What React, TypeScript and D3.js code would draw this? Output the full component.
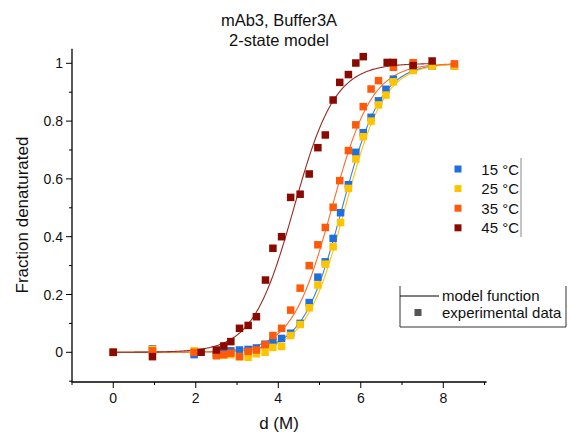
import React from "react";
import * as d3 from "d3";

const seriesNames = ["15 °C", "25 °C", "35 °C", "45 °C"];
const seriesColors = ["#1f6fdc", "#ffc400", "#ff5a0a", "#8b0a00"];
const curveColors = ["#3d82e0", "#ffc400", "#ff6a2a", "#9a2a22"];

const x15 = [0, 0.95, 1.96, 2.5, 2.68, 2.85, 3.06, 3.27, 3.47, 3.68, 3.87, 4.08, 4.3, 4.53, 4.75, 4.96, 5.14, 5.33, 5.51, 5.7, 5.88, 6.06, 6.25, 6.43, 6.61, 6.79, 7.27, 7.73, 8.27];
const y15 = [0, 0.012, -0.008, -0.005, 0.0, 0.005, 0.008, 0.01, 0.015, 0.028, 0.037, 0.048, 0.066, 0.1, 0.172, 0.26, 0.313, 0.394, 0.483, 0.58, 0.692, 0.76, 0.813, 0.87, 0.91, 0.945, 0.978, 0.99, 0.99];

const x25 = [0, 0.95, 1.96, 2.5, 2.68, 2.85, 3.06, 3.27, 3.47, 3.68, 3.87, 4.08, 4.3, 4.53, 4.75, 4.96, 5.14, 5.33, 5.51, 5.7, 5.88, 6.06, 6.25, 6.43, 6.61, 6.79, 7.27, 7.73, 8.27];
const y25 = [0, 0.01, 0.005, -0.01, -0.01, -0.008, -0.015, -0.017, -0.005, 0.0, 0.017, 0.02, 0.058, 0.096, 0.154, 0.233, 0.305, 0.365, 0.449, 0.567, 0.669, 0.746, 0.8, 0.856, 0.89, 0.936, 0.975, 0.99, 0.99];

const x35 = [0, 0.95, 1.96, 2.5, 2.68, 2.85, 3.06, 3.27, 3.47, 3.68, 3.87, 4.08, 4.3, 4.53, 4.75, 4.96, 5.14, 5.33, 5.49, 5.7, 5.88, 6.06, 6.25, 6.43, 6.79, 7.27, 8.27];
const y35 = [0, 0.005, 0.0, -0.012, -0.008, -0.003, -0.015, 0.003, 0.008, 0.026, 0.058, 0.083, 0.146, 0.222, 0.3, 0.372, 0.432, 0.502, 0.594, 0.698, 0.787, 0.85, 0.911, 0.94, 0.986, 1.002, 0.998];

const x45 = [0, 0.95, 2.13, 2.5, 2.68, 2.85, 3.06, 3.27, 3.47, 3.69, 3.87, 4.08, 4.3, 4.53, 4.75, 4.96, 5.14, 5.33, 5.49, 5.7, 5.88, 6.06, 6.64, 6.79, 7.27, 7.73];
const y45 = [0, -0.015, 0.0, 0.008, 0.022, 0.037, 0.083, 0.093, 0.123, 0.25, 0.36, 0.4, 0.536, 0.547, 0.617, 0.708, 0.752, 0.873, 0.934, 0.961, 1.001, 1.023, 1.003, 1.003, 0.992, 1.008];

// two-state model fit parameters (midpoint Cm, steepness k, fitted range end)
const fitMidpoints = [5.55, 5.62, 5.3, 4.38];
const fitSlopes = [2.1, 2.1, 2.05, 2.0];
const fitEnds = [8.27, 8.27, 8.27, 7.73];

const xTicks = [0, 2, 4, 6, 8];
const xMinorTicks = [-1, 1, 3, 5, 7, 9];
const yTicks = [0, 0.2, 0.4, 0.6, 0.8, 1];
const yMinorTicks = [-0.1, 0.1, 0.3, 0.5, 0.7, 0.9];

const title1 = "mAb3, Buffer3A";
const title2 = "2-state model";
const xLabel = "d (M)";
const yLabel = "Fraction denaturated";

const xs = [x15, x25, x35, x45];
const ys = [y15, y25, y35, y45];

export default function App() {
  const W = 571, H = 437;
  const font = "'Liberation Sans', Arial, sans-serif";
  const x = d3.scaleLinear().domain([-1, 9.05]).range([72, 486.6]);
  const y = d3.scaleLinear().domain([-0.1, 1.05]).range([381.2, 48.85]);
  const sq = 7.5;

  const line = d3.line<[number, number]>().x(d => x(d[0])).y(d => y(d[1]));

  return (
    <svg width={W} height={H} style={{ position: "absolute", left: 0, top: 0, background: "#fff" }} fontFamily={font}>
      <rect x={0} y={0} width={W} height={H} fill="#fff" />
      {/* title */}
      <text x={279} y={26} fontSize={16.5} textAnchor="middle" fill="#111">{title1}</text>
      <text x={279} y={46} fontSize={16.5} textAnchor="middle" fill="#111">{title2}</text>

      {/* curves */}
      {fitMidpoints.map((cm, i) => {
        const pts: [number, number][] = d3.range(0, fitEnds[i] + 0.001, 0.02).map(d => [d, 1 / (1 + Math.exp(-fitSlopes[i] * (d - cm)))]);
        return <path key={"c" + i} d={line(pts) || ""} fill="none" stroke={curveColors[i]} strokeWidth={1.1} />;
      })}

      {/* points */}
      {xs.map((xa, i) => (
        <g key={"s" + i}>
          {xa.map((xv, j) => (
            <rect key={j} x={x(xv) - sq / 2} y={y(ys[i][j]) - sq / 2} width={sq} height={sq} fill={seriesColors[i]} />
          ))}
        </g>
      ))}

      {/* axes */}
      <line x1={72} x2={72} y1={y.range()[1]} y2={y.range()[0] + 0.5} stroke="#000" strokeWidth={1.3} />
      <line x1={71.5} x2={x.range()[1]} y1={382} y2={382} stroke="#000" strokeWidth={1.3} />
      {yTicks.map(t => (
        <g key={"yt" + t}>
          <line x1={66} x2={72} y1={y(t)} y2={y(t)} stroke="#000" strokeWidth={1} />
          <text x={63} y={y(t) + 5} fontSize={14} textAnchor="end" fill="#111">{t}</text>
        </g>
      ))}
      {yMinorTicks.map(t => (
        <line key={"ym" + t} x1={69} x2={72} y1={y(t)} y2={y(t)} stroke="#000" strokeWidth={1} />
      ))}
      {xTicks.map(t => (
        <g key={"xt" + t}>
          <line x1={x(t)} x2={x(t)} y1={382} y2={388} stroke="#000" strokeWidth={1} />
          <text x={x(t)} y={403} fontSize={14} textAnchor="middle" fill="#111">{t}</text>
        </g>
      ))}
      {xMinorTicks.map(t => (
        <line key={"xm" + t} x1={x(t)} x2={x(t)} y1={382} y2={385} stroke="#000" strokeWidth={1} />
      ))}
      <text x={279} y={429} fontSize={17} textAnchor="middle" fill="#111">{xLabel}</text>
      <text transform="translate(28,215) rotate(-90)" fontSize={17} textAnchor="middle" fill="#111">{yLabel}</text>

      {/* legend 1 */}
      <line x1={521} x2={521} y1={158} y2={237} stroke="#888" strokeWidth={1} />
      {seriesNames.map((n, i) => (
        <g key={"l" + i}>
          <rect x={458 - 3.5} y={169 + i * 19.6 - 3.5} width={7} height={7} fill={seriesColors[i]} />
          <text x={519} y={169 + i * 19.6 + 5.5} fontSize={15} textAnchor="end" fill="#111">{n}</text>
        </g>
      ))}

      {/* legend 2 */}
      <path d="M400,286 V327 H566 V286" fill="none" stroke="#333" strokeWidth={1} />
      <line x1={400} x2={439} y1={296} y2={296} stroke="#000" strokeWidth={1} />
      <text x={442} y={301} fontSize={15} fill="#111">model function</text>
      <rect x={418 - 3.5} y={312.5 - 3.5} width={7} height={7} fill="#555" />
      <text x={442} y={318} fontSize={15} fill="#111">experimental data</text>
    </svg>
  );
}
